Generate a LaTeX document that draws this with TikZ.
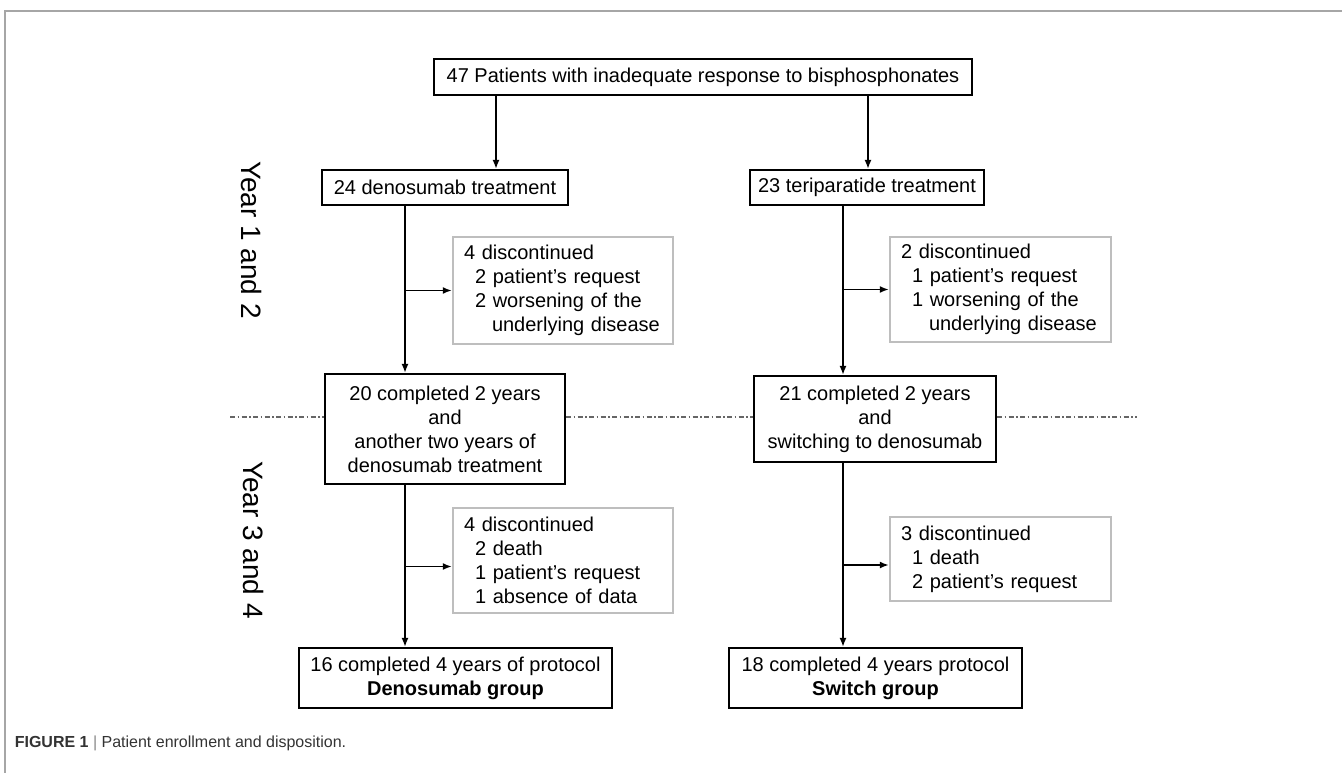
\documentclass[tikz,border=0pt]{standalone}
\usepackage{fontspec}
\setmainfont{Liberation Sans}
\usetikzlibrary{arrows.meta}

\definecolor{boxgray}{HTML}{BEBEBE}
\definecolor{splitgray}{HTML}{666666}
\definecolor{framegray}{HTML}{A6A6A6}
\definecolor{capgray}{HTML}{333333}
\definecolor{bargray}{HTML}{888888}

\begin{document}
\begin{tikzpicture}[x=1pt,y=-1pt,->,>={Latex[length=9pt,width=7pt]},line width=1.6pt,
                    every node/.style={font=\fontsize{20}{24}\selectfont}]

  \tikzstyle{stage}=[rectangle,draw,line width=2.2pt,align=center,inner sep=0pt]
  \tikzstyle{dropout}=[rectangle,draw=boxgray,line width=2.4pt,align=left,
                       inner xsep=11pt,inner ysep=0pt]
  \tikzstyle{period}=[rotate=-90,inner sep=0pt,font=\fontsize{28}{30}\selectfont]
  \tikzstyle{split}=[-,draw=splitgray,line width=1.1pt,
                     dash pattern=on 5pt off 2.5pt on 1.5pt off 2.5pt]

  \useasboundingbox (0,0) rectangle (1342,773);
  \draw[-,framegray,line width=1.5pt] (5,773) -- (5,11) -- (1342,11);

  \coordinate (aL) at (496,0);
  \coordinate (aR) at (868,0);
  \coordinate (vL) at (405,0);
  \coordinate (vR) at (843,0);
  \coordinate (dL) at (230,417);
  \coordinate (dR) at (1137,417);

  \node[stage,minimum width=538pt,minimum height=36pt] (P47) at (703,77)
       {47 Patients with inadequate response to bisphosphonates};
  \node[stage,minimum width=246pt,minimum height=35pt] (D24) at (445,187.5)
       {24 denosumab treatment};
  \node[stage,minimum width=234pt,minimum height=35pt] (T23) at (867,187.5)
       {23 teriparatide treatment};

  \node[dropout,text width=198pt,minimum height=107pt] (DX1) at (563,290.5)
       {4 discontinued\\\hspace*{11pt}2 patient’s request\\\hspace*{11pt}2 worsening of the\\\hspace*{28pt}underlying disease};
  \node[dropout,text width=199pt,minimum height=105pt] (TX1) at (1000.5,289.5)
       {2 discontinued\\\hspace*{11pt}1 patient’s request\\\hspace*{11pt}1 worsening of the\\\hspace*{28pt}underlying disease};

  \node[stage,minimum width=240pt,minimum height=110pt] (D20) at (445,429)
       {20 completed 2 years\\and\\another two years of\\denosumab treatment};
  \node[stage,minimum width=242pt,minimum height=86pt] (T21) at (875,419)
       {21 completed 2 years\\and\\switching to denosumab};

  \node[dropout,text width=198pt,minimum height=105pt] (DX2) at (563,560.5)
       {4 discontinued\\\hspace*{11pt}2 death\\\hspace*{11pt}1 patient’s request\\\hspace*{11pt}1 absence of data};
  \node[dropout,text width=199pt,minimum height=84pt] (TX2) at (1000.5,559)
       {3 discontinued\\\hspace*{11pt}1 death\\\hspace*{11pt}2 patient’s request};

  \node[stage,minimum width=313pt,minimum height=60pt] (D16) at (455.5,678)
       {16 completed 4 years of protocol\\\textbf{Denosumab group}};
  \node[stage,minimum width=293pt,minimum height=60pt] (S18) at (875.5,678)
       {18 completed 4 years protocol\\\textbf{Switch group}};

  \node[period] (Y12) at (252,240) {Year 1 and 2};
  \node[period] (Y34) at (254,540) {Year 3 and 4};

  \node[anchor=west,inner sep=0pt,text=capgray,font=\fontsize{16}{18}\selectfont] (cap) at (14,743)
       {\textbf{FIGURE 1} \textcolor{bargray}{|} Patient enrollment and disposition.};

  % year split
  \draw[split] (dL) -- (dL -| D20.west)
               (dL -| D20.east) -- (dL -| T21.west)
               (dL -| T21.east) -- (dR);

  \draw (P47.south -| aL) -- (D24.north -| aL);
  \draw (P47.south -| aR) -- (T23.north -| aR);

  \draw (D24.south -| vL) -- (D20.north -| vL);
  \draw (T23.south -| vR) -- (T21.north -| vR);
  \draw (DX1.west -| vL) -- (DX1.west);
  \draw (TX1.west -| vR) -- (TX1.west);

  \draw (D20.south -| vL) -- (D16.north -| vL);
  \draw (T21.south -| vR) -- (S18.north -| vR);
  \draw ([yshift=-6pt]DX2.west -| vL) -- ([yshift=-6pt]DX2.west);
  \draw ([yshift=-6pt]TX2.west -| vR) -- ([yshift=-6pt]TX2.west);
\end{tikzpicture}
\end{document}
